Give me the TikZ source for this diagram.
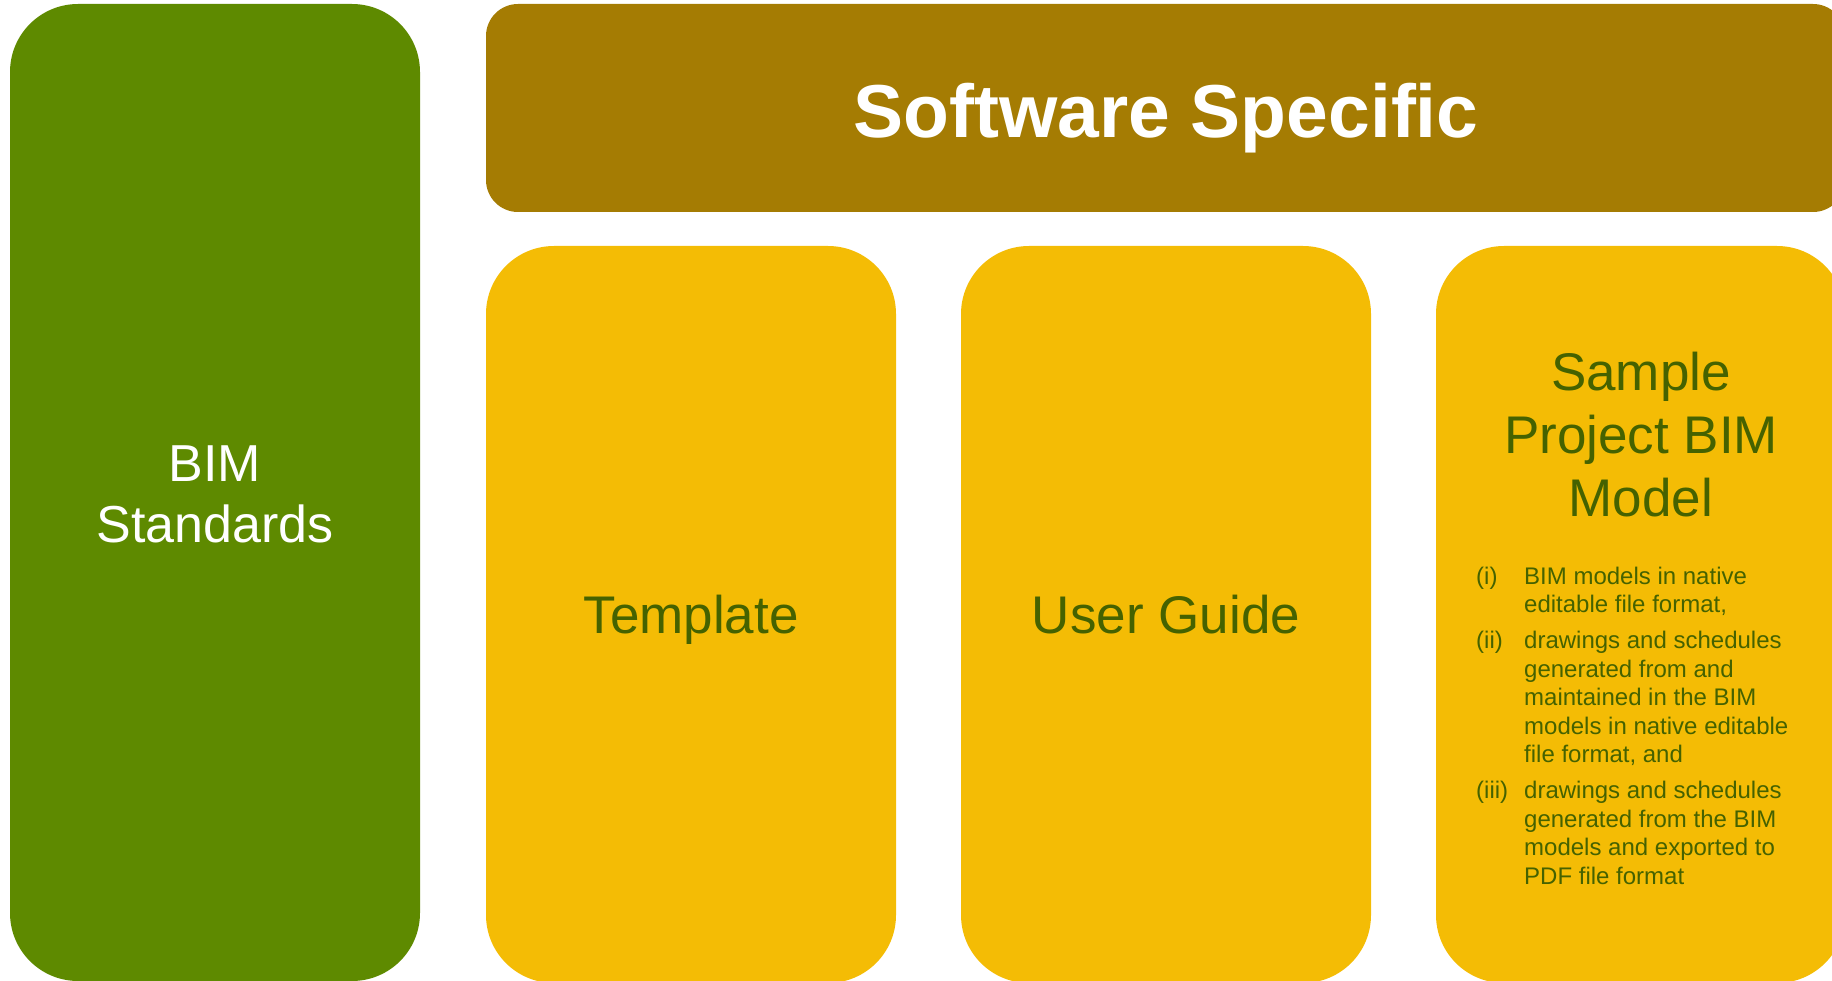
\documentclass[tikz,border=0pt]{standalone}
\usepackage{fontspec}
\setmainfont{Liberation Sans}
\definecolor{bimgreen}{HTML}{5E8A00}
\definecolor{swbrown}{HTML}{A57C03}
\definecolor{boxyellow}{HTML}{F4BC05}
\definecolor{darktext}{HTML}{456200}
\tikzset{
  greenbox/.style={fill=bimgreen, rounded corners=68pt},
  brownbox/.style={fill=swbrown, rounded corners=32pt},
  yellowbox/.style={fill=boxyellow, rounded corners=68pt},
  bigwhite/.style={text=white, inner sep=0pt, anchor=base, font=\fontsize{52}{61}\selectfont},
  bigdark/.style={text=darktext, inner sep=0pt, anchor=base, font=\fontsize{53}{63}\selectfont},
  titletext/.style={text=white, inner sep=0pt, anchor=base, font=\fontsize{75}{86}\selectfont\bfseries},
  listtext/.style={text=darktext, inner sep=0pt, anchor=base west, font=\fontsize{24}{28.5}\selectfont}
}
\begin{document}
\begin{tikzpicture}[x=1pt,y=-1pt]
\useasboundingbox (0,0) rectangle (1832,981);
\clip (0,0) rectangle (1832,981);
% boxes
\fill[greenbox] (10,4) rectangle (420,981);
\fill[brownbox] (486,4) rectangle (1845,212);
\fill[yellowbox] (486,246) rectangle (896,983);
\fill[yellowbox] (961,246) rectangle (1371,983);
\fill[yellowbox] (1436,246) rectangle (1845,983);
% texts
\node[bigwhite] (bim) at (215,482) {\begin{tabular}[t]{@{}c@{}}BIM\\Standards\end{tabular}};
\node[titletext] (sw) at (1166,138) {Software Specific};
\node[bigdark] (tpl) at (691,633) {Template};
\node[bigdark] (ug) at (1166,633) {User Guide};
\node[bigdark] (spm) at (1641,391) {\begin{tabular}[t]{@{}c@{}}Sample\\Project BIM\\Model\end{tabular}};
\node[listtext] (lst) at (1476,584) {\begin{tabular}[t]{@{}p{48pt}@{}l@{}}
(i) & BIM models in native\\
 & editable file format,\\[7.5pt]
(ii) & drawings and schedules\\
 & generated from and\\
 & maintained in the BIM\\
 & models in native editable\\
 & file format, and\\[7.5pt]
(iii) & drawings and schedules\\
 & generated from the BIM\\
 & models and exported to\\
 & PDF file format
\end{tabular}};
\end{tikzpicture}
\end{document}
